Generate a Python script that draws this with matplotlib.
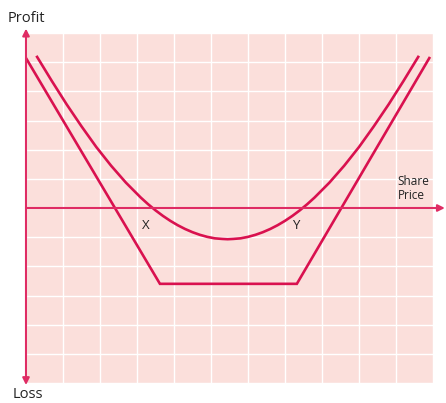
import matplotlib.pyplot as plt

plt.rcParams['font.family'] = ['Open Sans', 'DejaVu Sans']

# straddle payoff (the V with flat bottom)
straddle_x = [0.0, 3.62, 7.32, 10.9]
straddle_y = [5.14, -2.6, -2.6, 5.14]

# option value curve before expiry
curve_x = [0.30, 0.70, 1.10, 1.50, 1.90, 2.30, 2.70, 3.10, 3.30, 3.50, 3.70,
           3.90, 4.10, 4.30, 4.50, 4.70, 4.90, 5.10, 5.30, 5.45, 5.60, 5.80,
           6.00, 6.20, 6.40, 6.60, 6.80, 7.00, 7.20, 7.40, 7.60, 7.80, 8.20,
           8.60, 9.00, 9.40, 9.80, 10.20, 10.60]
curve_y = [5.18, 4.35, 3.55, 2.80, 2.09, 1.45, 0.87, 0.36, 0.13, -0.08, -0.27,
           -0.44, -0.59, -0.72, -0.83, -0.92, -0.99, -1.04, -1.06, -1.07, -1.06, -1.04,
           -0.99, -0.92, -0.83, -0.72, -0.59, -0.44, -0.27, -0.08, 0.13, 0.36, 0.87,
           1.45, 2.09, 2.80, 3.55, 4.35, 5.18]

point_labels = ['X', 'Y']
point_x = [3.25, 7.3]

red = '#d9114f'
axis_red = '#df2c64'

fig = plt.figure(figsize=(4.46, 4.03), dpi=100)
ax = fig.add_axes([26 / 446, 1 - 383 / 403, 407 / 446, 350 / 403])
ax.set_facecolor('#fbdfdb')
ax.set_xlim(0, 11)
ax.set_ylim(-6, 6)
ax.set_xticks(range(12))
ax.set_yticks(range(-6, 7))
ax.grid(True, color='white', linewidth=1.0)
ax.tick_params(length=0, labelbottom=False, labelleft=False)
for s in ax.spines.values():
    s.set_visible(False)

ax.plot(straddle_x, straddle_y, color=red, linewidth=1.9, solid_joinstyle='miter', zorder=3)
ax.plot(curve_x, curve_y, color=red, linewidth=1.9, zorder=3)

# axes with arrows
ax.annotate('', xy=(11.32, 0), xytext=(0, 0), annotation_clip=False,
            arrowprops=dict(arrowstyle='-|>', color=axis_red, lw=1.5,
                            mutation_scale=10, shrinkA=0, shrinkB=0))
ax.annotate('', xy=(0, 6.15), xytext=(0, 0), annotation_clip=False,
            arrowprops=dict(arrowstyle='-|>', color=axis_red, lw=1.5,
                            mutation_scale=10, shrinkA=0, shrinkB=0))
ax.annotate('', xy=(0, -6.07), xytext=(0, 0), annotation_clip=False,
            arrowprops=dict(arrowstyle='-|>', color=axis_red, lw=1.5,
                            mutation_scale=10, shrinkA=0, shrinkB=0))

for lab, px in zip(point_labels, point_x):
    ax.text(px, -0.6, lab, fontsize=9.5, color='#222222', ha='center', va='center')

ax.text(10.05, 0.2, 'Share\nPrice', fontsize=8.5, color='#222222', ha='left',
        va='bottom', linespacing=1.15)
fig.text(8 / 446, 1 - 18 / 403, 'Profit', fontsize=10.5, color='#222222',
         ha='left', va='center')
fig.text(13 / 446, 1 - 395 / 403, 'Loss', fontsize=10.5, color='#222222',
         ha='left', va='center')

fig.savefig('out.png', dpi=100)
